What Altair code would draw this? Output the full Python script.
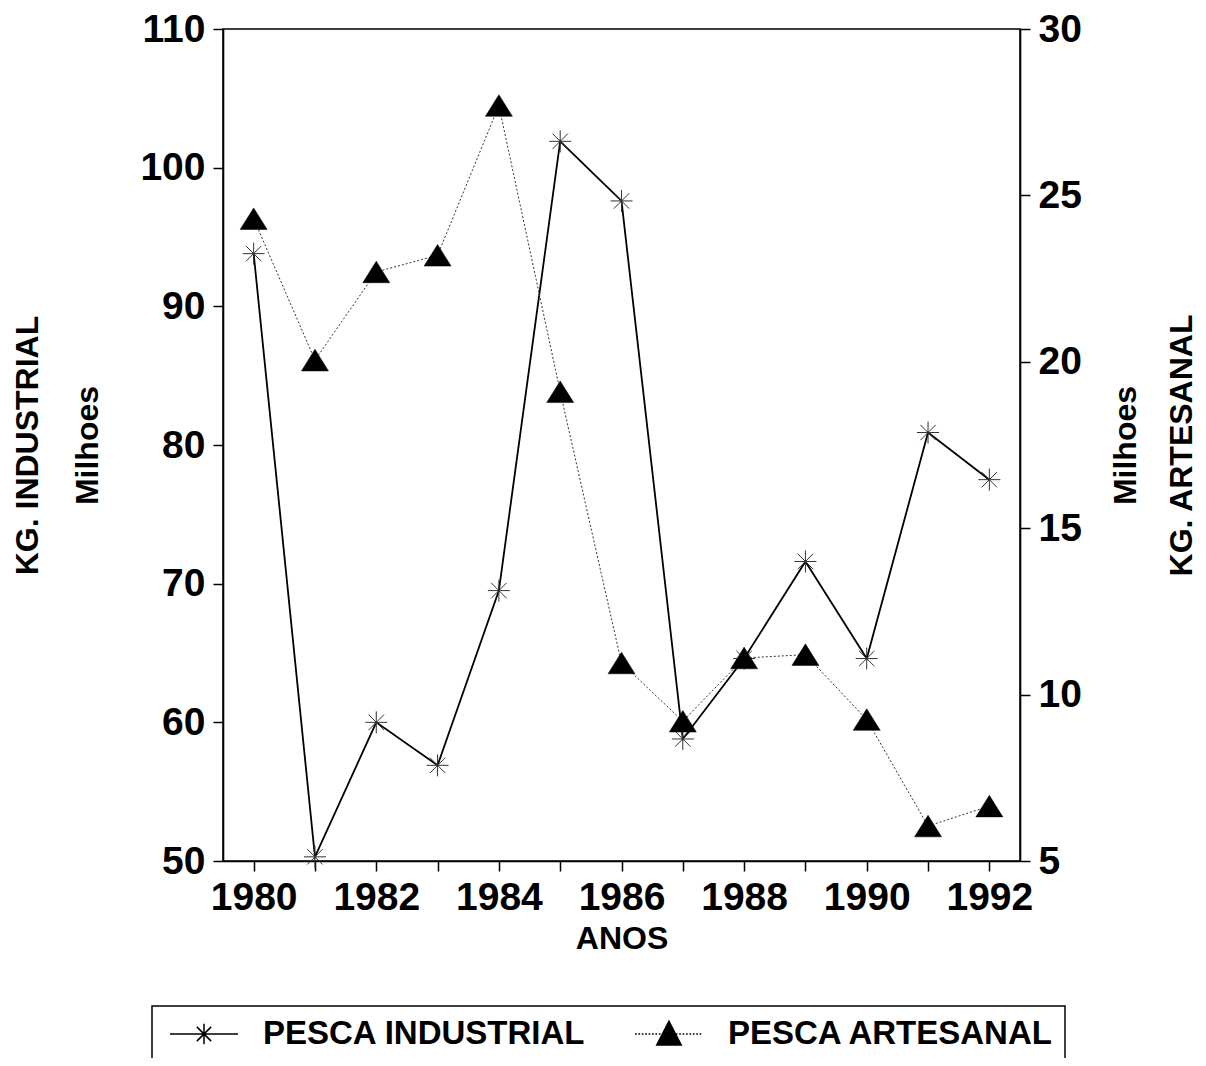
import altair as alt
import pandas as pd

anos = [1980, 1981, 1982, 1983, 1984, 1985, 1986, 1987, 1988, 1989, 1990, 1991, 1992]
industrial = [93.8, 50.3, 60.0, 56.9, 69.5, 101.9, 97.6, 58.8, 64.6, 71.6, 64.6, 80.9, 77.5]
artesanal = [24.3, 20.05, 22.7, 23.2, 27.7, 19.1, 10.95, 9.2, 11.1, 11.2, 9.25, 6.05, 6.65]
series = ["PESCA INDUSTRIAL", "PESCA ARTESANAL"]
left_ticks = [50, 60, 70, 80, 90, 100, 110]
right_ticks = [5, 10, 15, 20, 25, 30]

FONT = "Liberation Sans"

ind_df = pd.DataFrame({"ano": anos, "valor": industrial})
art_df = pd.DataFrame({"ano": anos, "valor": artesanal})
leg_df = pd.DataFrame({"serie": series})

# marker shapes (unit-box SVG paths)
ASTER = "M-1,0H1M0,-1V1M-0.7,-0.7L0.7,0.7M-0.7,0.7L0.7,-0.7"
TRI = "M0,-0.8L1,0.8H-1Z"

# legend symbols: line segment + marker, drawn with strokes only
LEG_ASTER = "M-2,0H2M0,-0.6V0.6M-0.42,-0.42L0.42,0.42M-0.42,0.42L0.42,-0.42"
_parts = []
_p = -2.0
while _p < 1.95:
    _parts.append("M%.2f,0H%.2f" % (_p, _p + 0.1))
    _p += 0.2
_parts.append("M0,-0.75L0.72,0.65H-0.72Z")
_yy = -0.72
while _yy < 0.66:
    _half = 0.72 * (_yy + 0.75) / 1.4
    _parts.append("M%.3f,%.3fH%.3f" % (-_half, _yy, _half))
    _yy += 0.05
LEG_TRI = "".join(_parts)

x_enc = alt.X(
    "ano:Q",
    scale=alt.Scale(domain=[1979.5, 1992.5], nice=False, zero=False),
    axis=alt.Axis(
        values=anos,
        format="d",
        labelExpr="datum.value % 2 == 0 ? datum.label : ''",
        title="ANOS",
        titleY=87,
        titleBaseline="alphabetic",
        labelBaseline="alphabetic",
        labelPadding=38,
        labelFlush=False,
        labelOverlap=False,
    ),
)

y_left = alt.Y(
    "valor:Q",
    scale=alt.Scale(domain=[50, 110], nice=False, zero=False),
    axis=alt.Axis(
        orient="left",
        values=left_ticks,
        title=["KG. INDUSTRIAL", "Milhoes"],
        titleAngle=270,
        titleBaseline="middle",
        titleAlign="center",
        titleX=-196,
        titleY=416,
        titleLineHeight=60,
        labelPadding=8,
    ),
)

y_right = alt.Y(
    "valor:Q",
    scale=alt.Scale(domain=[5, 30], nice=False, zero=False),
    axis=alt.Axis(
        orient="right",
        values=right_ticks,
        title=["Milhoes", "KG. ARTESANAL"],
        titleAngle=270,
        titleBaseline="middle",
        titleAlign="center",
        titleX=105,
        titleY=416,
        titleLineHeight=56,
        labelPadding=8,
    ),
)

ind_line = alt.Chart(ind_df).mark_line(color="black", strokeWidth=1.8).encode(x=x_enc, y=y_left)
ind_pts = alt.Chart(ind_df).mark_point(
    shape=ASTER, size=484, filled=False, stroke="#333333", strokeWidth=1, opacity=1
).encode(x=x_enc, y=y_left)

leg_color = alt.Color(
    "serie:N",
    scale=alt.Scale(domain=series, range=["black", "black"]),
    legend=alt.Legend(
        title="\u00a0",
        titleOrient="left",
        titleFontSize=8,
        titlePadding=24,
        labelExpr="datum.value == 'PESCA ARTESANAL' ? datum.label + '\u2003' : datum.label",
    ),
)
leg_shape = alt.Shape(
    "serie:N",
    scale=alt.Scale(domain=series, range=[LEG_ASTER, LEG_TRI]),
    legend=alt.Legend(
        title="\u00a0",
        titleOrient="left",
        titleFontSize=8,
        titlePadding=24,
        labelExpr="datum.value == 'PESCA ARTESANAL' ? datum.label + '\u2003' : datum.label",
    ),
)

legend_layer = (
    alt.Chart(leg_df)
    .mark_point(filled=False, strokeWidth=1.5, opacity=1)
    .encode(color=leg_color, shape=leg_shape)
    .transform_filter("false")
)

art_line = alt.Chart(art_df).mark_line(
    color="#333333", strokeWidth=1, strokeDash=[2, 2]
).encode(x=x_enc, y=y_right)
art_pts = alt.Chart(art_df).mark_point(
    shape=TRI, size=729, filled=True, fill="black", stroke="black", strokeWidth=0.5, opacity=1
).encode(x=x_enc, y=y_right)

left = alt.layer(ind_line, ind_pts, legend_layer)
right = alt.layer(art_line, art_pts)

chart = (
    alt.layer(left, right)
    .resolve_scale(y="independent")
    .properties(
        width=797,
        height=832,
        autosize=alt.AutoSizeParams(type="none"),
        padding={"left": 215, "top": 21, "right": 178, "bottom": 197},
        background="white",
    )
    .configure_view(stroke="black", strokeWidth=1.5)
    .configure_axis(
        grid=False,
        domainColor="black",
        domainWidth=1.6,
        tickColor="black",
        tickWidth=1.5,
        tickSize=10,
        labelFont=FONT,
        labelFontWeight="bold",
        labelFontSize=39,
        labelColor="black",
        titleFont=FONT,
        titleFontWeight="bold",
        titleFontSize=32,
        titleColor="black",
    )
    .configure_legend(
        orient="none",
        legendX=-71,
        legendY=977,
        direction="horizontal",
        padding=10,
        strokeColor="black",
        strokeWidth=1.5,
        symbolSize=1156,
        symbolStrokeWidth=1.5,
        labelFont=FONT,
        labelFontWeight="bold",
        labelFontSize=33,
        labelColor="black",
        labelOffset=41,
        columnPadding=46,
        labelLimit=600,
    )
)

chart.save("out.html", embed_options={"renderer": "svg", "actions": False})
